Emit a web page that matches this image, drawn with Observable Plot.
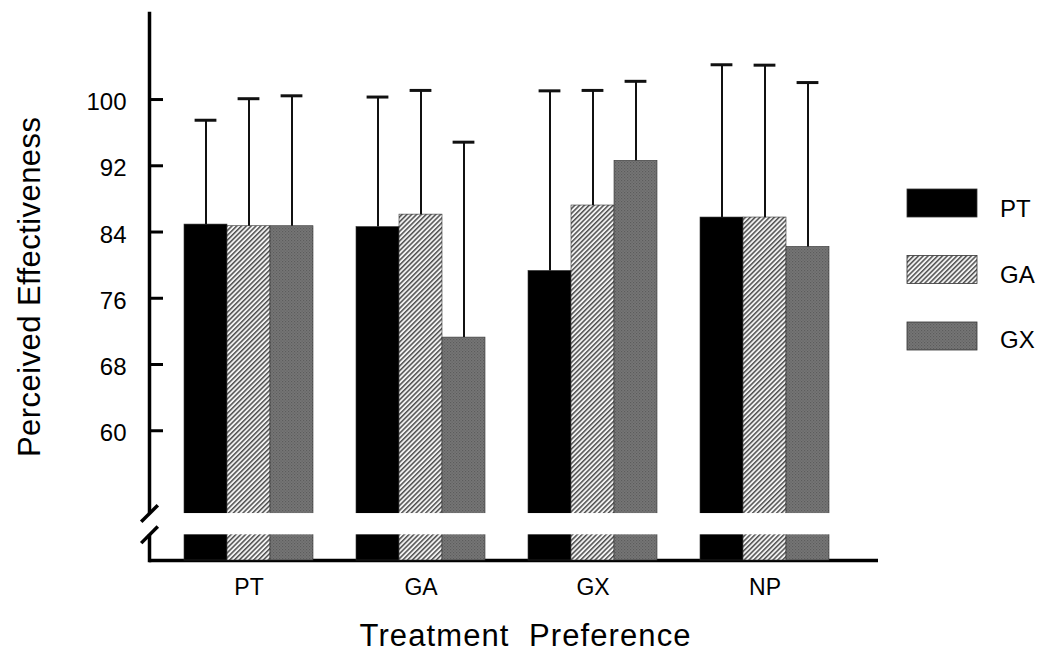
<!DOCTYPE html>
<html>
<head>
<meta charset="utf-8">
<script src="https://cdn.jsdelivr.net/npm/d3@7"></script>
<script src="https://cdn.jsdelivr.net/npm/@observablehq/plot@0.6"></script>
<style>
  html, body { margin: 0; padding: 0; background: #fff; }
  #chart svg { display: block; font-family: "Liberation Sans", Arial, sans-serif; }
</style>
</head>
<body>
<div id="chart"></div>
<script>
// ---- data ----
const groups = ["PT", "GA", "GX", "NP"];          // treatment preference
const series = ["PT", "GA", "GX"];                // treatment received
const meanPT = [84.9, 84.6, 79.3, 85.75];
const meanGA = [84.7, 86.1, 87.2, 85.75];
const meanGX = [84.7, 71.25, 92.6, 82.2];
const sdPT = [12.6, 15.7, 21.75, 18.45];
const sdGA = [15.4, 15.0, 13.9, 18.4];
const sdGX = [15.75, 23.6, 9.6, 19.85];
const yTicks = [60, 68, 76, 84, 92, 100];
const xTitle = "Treatment  Preference";
const yTitle = "Perceived Effectiveness";

// ---- build table ----
const means = {PT: meanPT, GA: meanGA, GX: meanGX};
const sds = {PT: sdPT, GA: sdGA, GX: sdGX};
const data = [];
groups.forEach((g, gi) => series.forEach(s => {
  data.push({group: g, series: s, key: g + "|" + s, mean: means[s][gi], upper: means[s][gi] + sds[s][gi]});
}));
// band domain: bars of each group, separated by one empty slot
const xDomain = [];
groups.forEach((g, gi) => {
  if (gi > 0) xDomain.push("gap" + gi);
  series.forEach(s => xDomain.push(g + "|" + s));
});

const Y_MIN = 44.33, Y_MAX = 110.39;   // axis extent
const BREAK = [47.43, 50];              // broken-axis gap
const fills = ["#000000", "url(#hatchGA)", "url(#textureGX)"];

const slash = {
  draw(ctx, size) {
    const r = Math.sqrt(size / Math.PI);
    ctx.moveTo(-r, r);
    ctx.lineTo(r, -r);
  }
};

const chart = Plot.plot({
  width: 1050,
  height: 669,
  marginLeft: 149,
  marginRight: 172,
  marginTop: 13,
  marginBottom: 109,
  style: {fontFamily: '"Liberation Sans", Arial, sans-serif', color: "#000", background: "#fff"},
  x: {domain: xDomain, range: [182, 830], padding: 0, axis: null},
  y: {domain: [Y_MIN, Y_MAX]},
  color: {domain: series, range: fills},
  marks: [
    Plot.frame({anchor: "left", stroke: "#000", strokeWidth: 3.5}),
    Plot.ruleY([Y_MIN], {stroke: "#000", strokeWidth: 3.5}),
    Plot.axisY({ticks: yTicks, tickSize: 14, dx: 14, tickFormat: () => "", strokeWidth: 3, label: null}),
    Plot.axisY({ticks: yTicks, tickSize: 0, tickPadding: 23, fontSize: 24, dy: 3, label: null}),
    Plot.barY(data, {x: "key", y1: () => Y_MIN, y2: "mean", fill: "series", stroke: "#333", strokeWidth: 0.6}),
    Plot.ruleX(data, {x: "key", y1: "mean", y2: "upper", stroke: "#111", strokeWidth: 2}),
    Plot.tickY(data, {x: "key", y: "upper", stroke: "#111", strokeWidth: 3, insetLeft: 10.6, insetRight: 10.6}),
    Plot.rectY([BREAK], {y1: d => d[0], y2: d => d[1], fill: "#fff", insetLeft: -6}),
    Plot.dot(BREAK, {y: d => d, frameAnchor: "left", symbol: slash, r: 8.3, fill: "none", stroke: "#000", strokeWidth: 3.5}),
    Plot.text(groups, {x: g => g + "|GA", frameAnchor: "bottom", dy: 34, text: g => g, fontSize: 23, fill: "#000"})
  ]
});

document.getElementById("chart").appendChild(chart);

// ---- patterns, titles, legend ----
const svg = d3.select(chart);
const defs = svg.insert("defs", ":first-child");
const pa = defs.append("pattern").attr("id", "hatchGA").attr("patternUnits", "userSpaceOnUse")
  .attr("width", 3.4).attr("height", 3.4).attr("patternTransform", "rotate(45)");
pa.append("rect").attr("width", 3.4).attr("height", 3.4).attr("fill", "#f2f2f2");
pa.append("rect").attr("width", 1.5).attr("height", 3.4).attr("fill", "#505050");
const px = defs.append("pattern").attr("id", "textureGX").attr("patternUnits", "userSpaceOnUse")
  .attr("width", 3).attr("height", 3);
px.append("rect").attr("width", 3).attr("height", 3).attr("fill", "#767676");
px.append("rect").attr("width", 1.2).attr("height", 1.2).attr("fill", "#5c5c5c");
px.append("rect").attr("x", 1.5).attr("y", 1.5).attr("width", 1.2).attr("height", 1.2).attr("fill", "#626262");

svg.append("text")
  .attr("x", 525).attr("y", 646)
  .attr("text-anchor", "middle")
  .attr("font-size", 31)
  .attr("textLength", 331).attr("lengthAdjust", "spacing")
  .style("white-space", "pre")
  .attr("fill", "#000")
  .text(xTitle);

svg.append("text")
  .attr("transform", "translate(40,287) rotate(-90)")
  .attr("text-anchor", "middle")
  .attr("font-size", 31)
  .attr("textLength", 340).attr("lengthAdjust", "spacing")
  .attr("fill", "#000")
  .text(yTitle);

const legend = svg.append("g").attr("text-anchor", "start");
series.forEach((s, i) => {
  legend.append("rect")
    .attr("x", 907).attr("y", 189 + i * 66.5)
    .attr("width", 70).attr("height", 28)
    .attr("fill", fills[i]).attr("stroke", "#333").attr("stroke-width", 0.8);
  legend.append("text")
    .attr("x", 1000).attr("y", 217 + i * 65.7)
    .attr("text-anchor", "start")
    .attr("font-size", 24).attr("fill", "#000")
    .text(s);
});
</script>
</body>
</html>
